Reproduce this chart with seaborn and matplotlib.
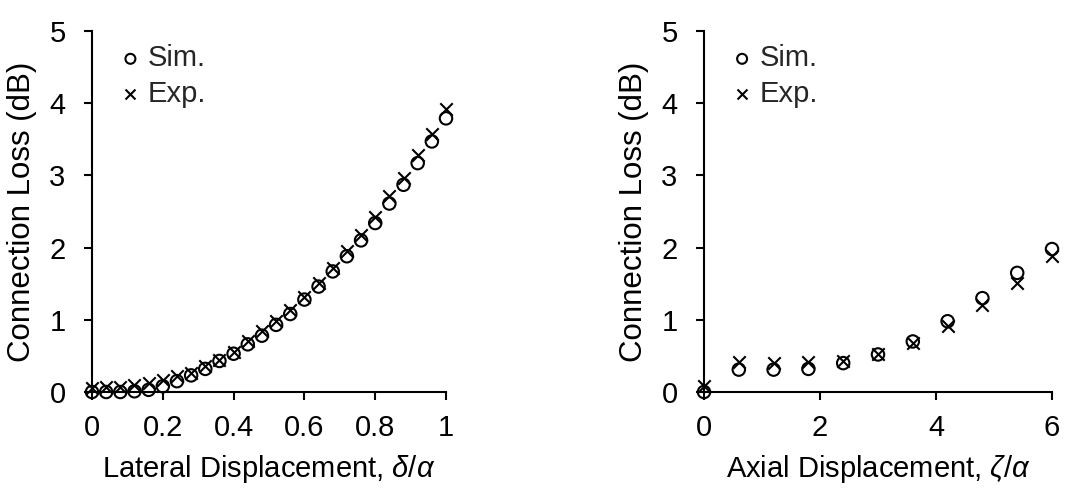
import numpy as np
import pandas as pd
import matplotlib
matplotlib.use("Agg")
import matplotlib.pyplot as plt
import seaborn as sns

# Lateral offset sweep (normalised by core radius)
lateral_x = [0.00, 0.04, 0.08, 0.12, 0.16, 0.20, 0.24, 0.28, 0.32, 0.36, 0.40, 0.44, 0.48,
             0.52, 0.56, 0.60, 0.64, 0.68, 0.72, 0.76, 0.80, 0.84, 0.88, 0.92, 0.96, 1.00]
lateral_sim = [0.00, 0.00, 0.00, 0.01, 0.03, 0.08, 0.15, 0.23, 0.32, 0.43, 0.53, 0.66, 0.78,
               0.93, 1.08, 1.28, 1.46, 1.67, 1.88, 2.10, 2.34, 2.61, 2.87, 3.17, 3.47, 3.79]
lateral_exp = [0.06, 0.07, 0.07, 0.10, 0.12, 0.17, 0.22, 0.27, 0.36, 0.45, 0.56, 0.70, 0.84,
               0.98, 1.14, 1.32, 1.51, 1.72, 1.95, 2.18, 2.43, 2.71, 2.96, 3.28, 3.58, 3.92]

# Axial gap sweep (normalised by core radius)
axial_x = [0.0, 0.6, 1.2, 1.8, 2.4, 3.0, 3.6, 4.2, 4.8, 5.4, 6.0]
axial_sim = [0.00, 0.31, 0.31, 0.32, 0.40, 0.52, 0.70, 0.98, 1.30, 1.65, 1.98]
axial_exp = [0.09, 0.42, 0.40, 0.42, 0.43, 0.52, 0.68, 0.91, 1.21, 1.51, 1.88]

y_ticks = [0, 1, 2, 3, 4, 5]
lateral_ticks = [0, 0.2, 0.4, 0.6, 0.8, 1]
lateral_ticklabels = ["0", "0.2", "0.4", "0.6", "0.8", "1"]
axial_ticks = [0, 2, 4, 6]

sns.set_theme(style="ticks")
plt.rcParams["font.family"] = ["Liberation Sans", "DejaVu Sans"]
plt.rcParams["mathtext.fontset"] = "custom"
plt.rcParams["mathtext.it"] = "Liberation Sans:italic"
plt.rcParams["mathtext.rm"] = "Liberation Sans"

TICK_FS = 21
XLAB_FS = 21
YLAB_FS = 22.5
LEG_FS = 21

fig = plt.figure(figsize=(10.89, 4.88), dpi=100)
ax1 = fig.add_axes([92 / 1089, 1 - 392 / 488, (446 - 92) / 1089, (392 - 31) / 488])
ax2 = fig.add_axes([704 / 1089, 1 - 392 / 488, (1052 - 704) / 1089, (392 - 31) / 488])


def draw(ax, x, sim, exp, xlim, xticks, xticklabels, xlabel):
    df = pd.DataFrame({"x": x, "sim": sim, "exp": exp})
    sns.scatterplot(data=df, x="x", y="sim", ax=ax, marker="o", s=80,
                    facecolor="none", edgecolor="black", linewidth=1.5,
                    clip_on=False, zorder=3, label="Sim.")
    sns.scatterplot(data=df, x="x", y="exp", ax=ax, marker="x", s=80,
                    color="black", linewidth=1.5, clip_on=False, zorder=4,
                    label="Exp.")
    ax.set_xlim(*xlim)
    ax.set_ylim(0, 5)
    ax.set_xticks(xticks)
    ax.set_xticklabels(xticklabels)
    ax.set_yticks(y_ticks)
    ax.set_yticklabels([str(t) for t in y_ticks])
    for side in ("top", "right"):
        ax.spines[side].set_visible(False)
    for side in ("left", "bottom"):
        ax.spines[side].set_linewidth(1.5)
        ax.spines[side].set_color("black")
    ax.tick_params(axis="both", direction="out", length=6, width=1.5,
                   colors="black", labelsize=TICK_FS)
    ax.tick_params(axis="x", pad=10)
    ax.tick_params(axis="y", pad=13)
    ax.set_xlabel(xlabel, fontsize=XLAB_FS, color="black", labelpad=8)
    ax.set_ylabel("Connection Loss (dB)", fontsize=YLAB_FS, color="black", labelpad=9)
    ax.set_facecolor("white")
    ax.legend(loc="upper left", bbox_to_anchor=(0.055, 0.995), frameon=False,
              fontsize=LEG_FS, markerscale=0.8, handlelength=0.5, handletextpad=0.35,
              labelspacing=0.25, borderaxespad=0)


draw(ax1, lateral_x, lateral_sim, lateral_exp, (0, 1), lateral_ticks,
     lateral_ticklabels, r"Lateral Displacement, $\delta/\alpha$")
draw(ax2, axial_x, axial_sim, axial_exp, (0, 6), axial_ticks,
     [str(t) for t in axial_ticks], r"Axial Displacement, $\zeta/\alpha$")

fig.savefig("out.png", dpi=100, facecolor="white")
